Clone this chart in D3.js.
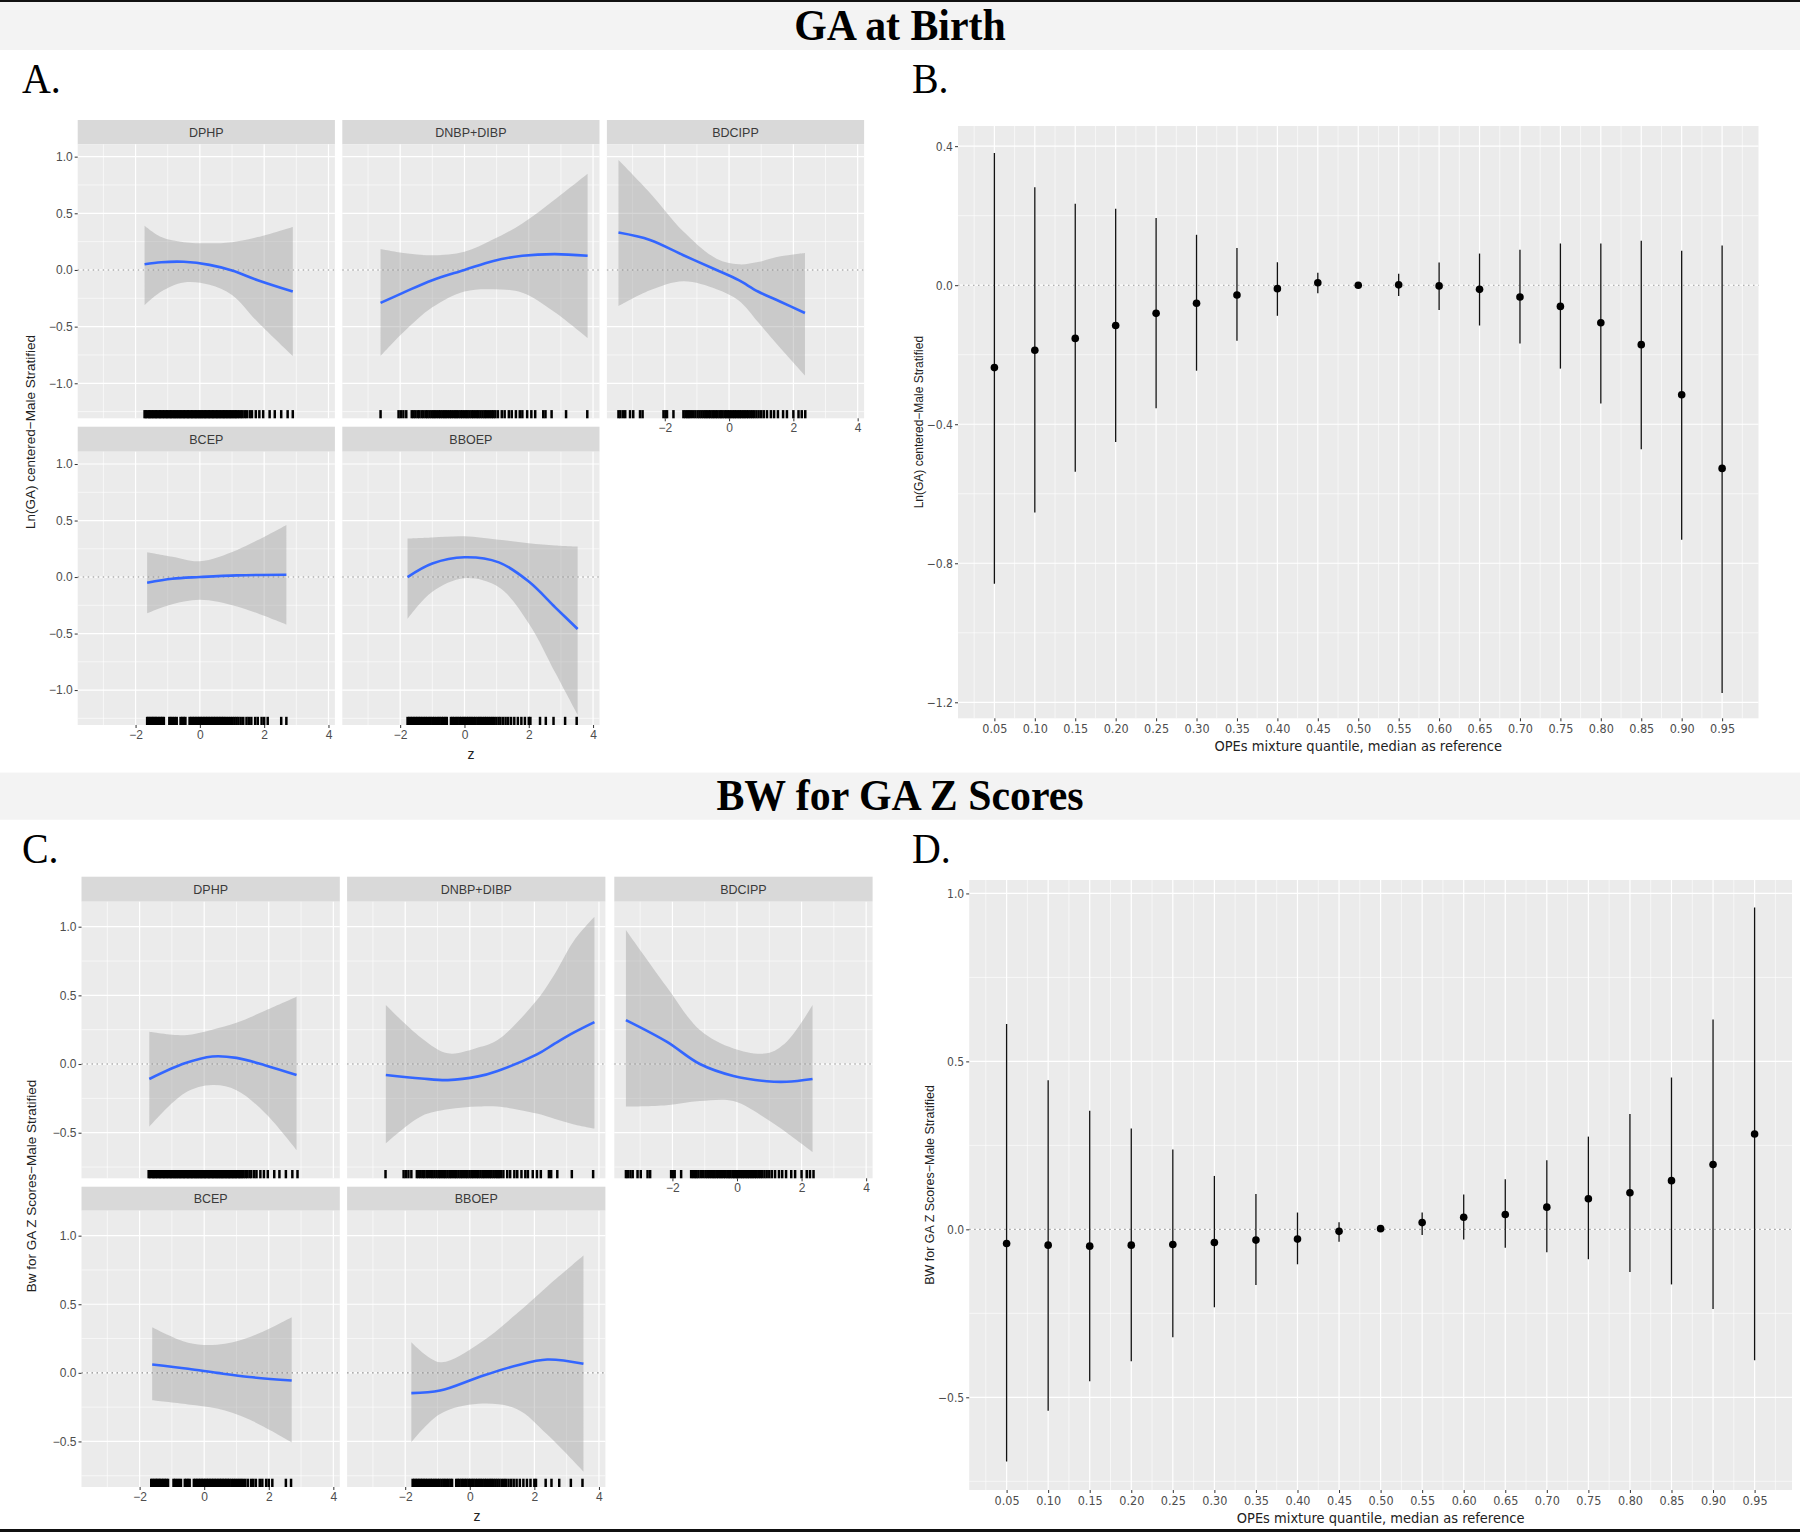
<!DOCTYPE html>
<html>
<head>
<meta charset="utf-8">
<script src="https://cdn.jsdelivr.net/npm/d3@7"></script>
<style>
body { margin: 0; background: #fff; }
svg text { font-family: "Liberation Sans", Arial, sans-serif; }
.narrow { font-family: "Liberation Sans Narrow", "DejaVu Sans Condensed", "Liberation Sans", sans-serif; font-stretch: condensed; }
.serif { font-family: "Liberation Serif", "Times New Roman", serif; }
</style>
</head>
<body>
<svg id="fig" width="1800" height="1532"></svg>
<script>
var svg = d3.select('#fig');

// facet names, in facet_wrap order
var facet_names = ['DPHP', 'DNBP+DIBP', 'BDCIPP', 'BCEP', 'BBOEP'];

// rug: observed z of each exposure (same for both outcomes)
var rug_dphp = [-1.72,-1.68,-1.63,-1.58,-1.55,-1.5,-1.46,-1.41,-1.37,-1.33,-1.28,-1.24,-1.2,-1.15,-1.11,-1.06,-1.02,-0.98,-0.93,-0.89,-0.85,-0.8,-0.76,-0.72,-0.67,-0.63,-0.59,-0.54,-0.5,-0.46,-0.41,-0.37,-0.33,-0.28,-0.24,-0.2,-0.15,-0.11,-0.07,-0.02,0.02,0.06,0.11,0.15,0.19,0.24,0.28,0.32,0.37,0.41,0.45,0.5,0.54,0.58,0.63,0.67,0.72,0.76,0.8,0.85,0.89,0.94,0.98,1.03,1.08,1.12,1.17,1.22,1.28,1.33,1.4,1.46,1.55,1.62,1.74,1.85,1.97,2.17,2.33,2.53,2.73,2.89];
var rug_dnbp = [-2.61,-2.05,-1.98,-1.9,-1.81,-1.64,-1.58,-1.52,-1.45,-1.4,-1.33,-1.27,-1.2,-1.15,-1.09,-1.03,-0.97,-0.92,-0.86,-0.8,-0.75,-0.69,-0.63,-0.58,-0.52,-0.46,-0.41,-0.35,-0.29,-0.24,-0.18,-0.12,-0.07,-0.01,0.05,0.1,0.16,0.22,0.27,0.33,0.39,0.44,0.5,0.56,0.62,0.67,0.73,0.79,0.85,0.9,0.96,1.04,1.16,1.25,1.38,1.47,1.6,1.72,1.8,1.95,2.08,2.2,2.45,2.52,2.71,3.16,3.82];
var rug_bdcipp = [-3.44,-3.38,-3.3,-3.23,-3.08,-2.98,-2.77,-2.69,-2.04,-1.98,-1.93,-1.73,-1.42,-1.36,-1.3,-1.25,-1.19,-1.12,-1.05,-0.98,-0.92,-0.86,-0.8,-0.74,-0.69,-0.63,-0.58,-0.52,-0.47,-0.41,-0.36,-0.3,-0.25,-0.2,-0.14,-0.09,-0.04,0.01,0.06,0.12,0.17,0.22,0.28,0.33,0.38,0.44,0.49,0.55,0.6,0.66,0.72,0.78,0.85,0.92,1.0,1.08,1.18,1.3,1.4,1.52,1.68,1.8,2.0,2.16,2.26,2.37];
var rug_bcep = [-1.64,-1.6,-1.55,-1.5,-1.46,-1.41,-1.37,-1.32,-1.27,-1.22,-1.17,-1.12,-0.95,-0.9,-0.84,-0.78,-0.72,-0.6,-0.55,-0.5,-0.45,-0.32,-0.27,-0.22,-0.17,-0.12,-0.07,-0.02,0.03,0.08,0.13,0.18,0.23,0.28,0.33,0.38,0.43,0.48,0.53,0.58,0.63,0.68,0.73,0.78,0.84,0.9,0.96,1.02,1.08,1.14,1.2,1.27,1.35,1.45,1.52,1.6,1.72,1.8,1.92,2.0,2.11,2.53,2.69];
var rug_bboep = [-1.77,-1.72,-1.67,-1.62,-1.57,-1.52,-1.47,-1.42,-1.37,-1.32,-1.26,-1.21,-1.16,-1.1,-1.05,-0.99,-0.94,-0.88,-0.82,-0.77,-0.71,-0.66,-0.6,-0.55,-0.42,-0.37,-0.32,-0.26,-0.21,-0.15,-0.1,-0.04,0.01,0.07,0.12,0.18,0.23,0.29,0.34,0.4,0.46,0.51,0.57,0.63,0.68,0.74,0.8,0.86,0.92,0.99,1.06,1.12,1.2,1.28,1.36,1.45,1.55,1.66,1.77,1.88,2.0,2.05,2.35,2.53,2.77,3.13,3.49];

// univariate exposure-response, rows are [z, fit, lower, upper]
var ga_dphp = [[-1.72,0.05,-0.31,0.39],[-1.2,0.068,-0.19,0.29],[-0.5,0.072,-0.11,0.245],[0.3,0.045,-0.13,0.235],[1.0,-0.005,-0.22,0.245],[1.8,-0.09,-0.46,0.29],[2.89,-0.19,-0.76,0.38]];
var ga_dnbp = [[-2.61,-0.29,-0.76,0.185],[-1.9,-0.2,-0.55,0.15],[-1.0,-0.09,-0.33,0.13],[0,0.0,-0.19,0.16],[0.9,0.08,-0.17,0.27],[1.8,0.125,-0.2,0.41],[2.8,0.14,-0.37,0.62],[3.83,0.125,-0.6,0.85]];
var ga_bdcipp = [[-3.44,0.33,-0.32,0.97],[-2.46,0.265,-0.18,0.68],[-1.42,0.13,-0.1,0.34],[-0.39,0.0,-0.17,0.1],[0.3,-0.09,-0.27,0.05],[0.9,-0.19,-0.46,0.07],[1.6,-0.28,-0.69,0.12],[2.36,-0.38,-0.93,0.15]];
var ga_bcep = [[-1.64,-0.05,-0.32,0.22],[-0.86,-0.015,-0.24,0.18],[0,0.0,-0.2,0.14],[1.16,0.015,-0.26,0.24],[2.69,0.02,-0.42,0.46]];
var ga_bboep = [[-1.77,0.0,-0.37,0.34],[-1.0,0.12,-0.13,0.35],[0,0.175,-0.01,0.36],[1.07,0.13,-0.09,0.33],[2.0,-0.04,-0.41,0.3],[2.83,-0.27,-0.85,0.28],[3.52,-0.46,-1.22,0.27]];

var bw_dphp = [[-1.7,-0.109,-0.456,0.235],[-0.6,0.005,-0.21,0.21],[0.25,0.055,-0.153,0.25],[1.0,0.045,-0.19,0.3],[1.9,-0.01,-0.36,0.39],[2.86,-0.08,-0.626,0.49]];
var bw_dnbp = [[-2.6,-0.08,-0.578,0.43],[-1.5,-0.105,-0.38,0.19],[-0.68,-0.117,-0.33,0.078],[0.26,-0.09,-0.31,0.12],[0.86,-0.05,-0.31,0.175],[2.08,0.07,-0.36,0.466],[2.64,0.15,-0.4,0.66],[3.23,0.23,-0.44,0.9],[3.86,0.305,-0.47,1.073]];
var bw_bdcipp = [[-3.44,0.32,-0.31,0.976],[-2.18,0.163,-0.3,0.563],[-1.15,0.0,-0.27,0.248],[-0.11,-0.087,-0.27,0.114],[0.92,-0.125,-0.4,0.078],[1.54,-0.129,-0.5,0.163],[2.34,-0.109,-0.64,0.43]];
var bw_bcep = [[-1.61,0.061,-0.2,0.333],[-0.5,0.03,-0.23,0.22],[0.4,0.0,-0.26,0.205],[1.4,-0.03,-0.34,0.26],[2.71,-0.056,-0.506,0.406]];
var bw_bboep = [[-1.81,-0.148,-0.506,0.224],[-0.92,-0.129,-0.3,0.078],[0.27,-0.032,-0.226,0.21],[1.45,0.054,-0.263,0.43],[2.4,0.097,-0.45,0.63],[3.52,0.066,-0.72,0.856]];

// mixture quantile effects (median as reference)
var quantiles = [0.05,0.10,0.15,0.20,0.25,0.30,0.35,0.40,0.45,0.50,0.55,0.60,0.65,0.70,0.75,0.80,0.85,0.90,0.95];
var ga_est = [-0.237,-0.187,-0.153,-0.116,-0.081,-0.052,-0.028,-0.010,0.007,0.0,0.001,-0.002,-0.012,-0.034,-0.061,-0.108,-0.171,-0.315,-0.527];
var ga_lo = [-0.859,-0.654,-0.537,-0.451,-0.354,-0.246,-0.160,-0.088,-0.023,-0.002,-0.031,-0.071,-0.116,-0.168,-0.240,-0.340,-0.472,-0.732,-1.173];
var ga_hi = [0.380,0.282,0.234,0.220,0.193,0.145,0.107,0.066,0.036,0.002,0.033,0.065,0.091,0.102,0.120,0.120,0.128,0.099,0.114];
var bw_est = [-0.042,-0.047,-0.050,-0.047,-0.045,-0.039,-0.032,-0.029,-0.006,0.002,0.020,0.036,0.044,0.066,0.091,0.109,0.145,0.193,0.284];
var bw_lo = [-0.691,-0.540,-0.452,-0.393,-0.321,-0.232,-0.166,-0.104,-0.037,0.0,-0.017,-0.030,-0.055,-0.068,-0.089,-0.127,-0.164,-0.237,-0.390];
var bw_hi = [0.611,0.444,0.353,0.300,0.238,0.159,0.105,0.050,0.021,0.004,0.050,0.104,0.149,0.206,0.276,0.343,0.452,0.625,0.958];

// axis breaks
var z_ticks = [-2, 0, 2, 4];
var z_minor = [-3, -1, 1, 3];
var ga_facet_ticks = [-1, -0.5, 0, 0.5, 1];
var ga_facet_minor = [-1.25, -0.75, -0.25, 0.25, 0.75];
var bw_facet_ticks = [-0.5, 0, 0.5, 1];
var bw_facet_minor = [-0.75, -0.25, 0.25, 0.75];
var ga_q_ticks = [-1.2, -0.8, -0.4, 0, 0.4];
var ga_q_minor = [-1.0, -0.6, -0.2, 0.2];
var bw_q_ticks = [-0.5, 0, 0.5, 1];
var bw_q_minor = [-0.75, -0.25, 0.25, 0.75];

var rugs = [rug_dphp, rug_dnbp, rug_bdcipp, rug_bcep, rug_bboep];

// ---- page frame ----
svg.append('rect').attr('x', 0).attr('y', 0).attr('width', 1800).attr('height', 2).attr('fill', '#111');
svg.append('rect').attr('x', 0).attr('y', 1529).attr('width', 1800).attr('height', 3).attr('fill', '#111');

function band(y0, y1, title) {
  svg.append('rect').attr('x', 0).attr('y', y0).attr('width', 1800).attr('height', y1 - y0).attr('fill', '#F3F3F3');
  // serif title, a little condensed like the original
  svg.append('text').attr('class', 'serif')
    .attr('transform', 'translate(900,' + ((y0 + y1) / 2 + 14) + ') scale(0.93,1)')
    .attr('text-anchor', 'middle')
    .style('font-size', '45px').style('font-weight', 'bold').attr('fill', '#000')
    .text(title);
}
band(2, 50, 'GA at Birth');
band(772.6, 819.7, 'BW for GA Z Scores');

function panel_letter(x, y, s) {
  svg.append('text').attr('class', 'serif')
    .attr('transform', 'translate(' + x + ',' + y + ') scale(0.95,1)')
    .style('font-size', '42px').attr('fill', '#000').text(s);
}
panel_letter(22, 93, 'A.');
panel_letter(912, 93, 'B.');
panel_letter(22, 863, 'C.');
panel_letter(912, 863, 'D.');

function style_axis(sel, narrow, size) {
  sel.select('.domain').remove();
  sel.selectAll('.tick line').attr('stroke', '#333').attr('stroke-width', 1);
  sel.selectAll('.tick text')
    .attr('fill', '#4D4D4D')
    .attr('class', narrow ? 'narrow' : null)
    .style('font-size', size + 'px');
}

function grid(g, x0, x1, y0, y1, xs, ys, xv, yv, width) {
  g.selectAll(null).data(xv).enter().append('line')
    .attr('x1', function(d) { return xs(d); }).attr('x2', function(d) { return xs(d); })
    .attr('y1', y0).attr('y2', y1)
    .attr('stroke', '#fff').attr('stroke-width', width);
  g.selectAll(null).data(yv).enter().append('line')
    .attr('x1', x0).attr('x2', x1)
    .attr('y1', function(d) { return ys(d); }).attr('y2', function(d) { return ys(d); })
    .attr('stroke', '#fff').attr('stroke-width', width);
}

// ---- facet plot (A, C) ----
function facet_plot(opt) {
  var g = svg.append('g');
  var fmt = d3.format('.1f');

  opt.curves.forEach(function(rows, i) {
    var r = Math.floor(i / 3), c = i % 3;
    var cx = opt.cols[c], ry = opt.rows[r];
    var px0 = cx[0], px1 = cx[1], py0 = ry.panel[0], py1 = ry.panel[1];
    var x = d3.scaleLinear().domain([-3.8, 4.2]).range([px0, px1]);
    var y = d3.scaleLinear().domain(opt.y_domain).range([py1, py0]);
    var cell = g.append('g');

    // strip
    cell.append('rect').attr('x', px0).attr('y', ry.strip[0])
      .attr('width', px1 - px0).attr('height', ry.strip[1] - ry.strip[0])
      .attr('fill', '#D9D9D9');
    cell.append('text').attr('x', (px0 + px1) / 2).attr('y', (ry.strip[0] + ry.strip[1]) / 2 + 4.5)
      .attr('text-anchor', 'middle').attr('fill', '#3a3a3a').style('font-size', '12.5px')
      .text(facet_names[i]);

    cell.append('rect').attr('x', px0).attr('y', py0)
      .attr('width', px1 - px0).attr('height', py1 - py0).attr('fill', '#EBEBEB');
    grid(cell, px0, px1, py0, py1, x, y, z_minor, opt.y_minor, 0.6);
    grid(cell, px0, px1, py0, py1, x, y, z_ticks, opt.y_ticks, 1.2);

    var area = d3.area()
      .x(function(d) { return x(d[0]); })
      .y0(function(d) { return y(d[2]); })
      .y1(function(d) { return y(d[3]); })
      .curve(d3.curveCatmullRom.alpha(0.5));
    cell.append('path').datum(rows).attr('d', area)
      .attr('fill', '#999').attr('fill-opacity', 0.4);

    cell.append('line').attr('x1', px0).attr('x2', px1)
      .attr('y1', y(0)).attr('y2', y(0))
      .attr('stroke', '#8c8c8c').attr('stroke-width', 1.1).attr('stroke-dasharray', '1.5,3.5');

    var line = d3.line()
      .x(function(d) { return x(d[0]); })
      .y(function(d) { return y(d[1]); })
      .curve(d3.curveCatmullRom.alpha(0.5));
    cell.append('path').datum(rows).attr('d', line)
      .attr('fill', 'none').attr('stroke', '#3366FF').attr('stroke-width', 2.6);

    // rug
    var rug_len = (py1 - py0) * 0.03;
    cell.selectAll(null).data(rugs[i]).enter().append('line')
      .attr('x1', function(d) { return x(d); }).attr('x2', function(d) { return x(d); })
      .attr('y1', py1).attr('y2', py1 - rug_len)
      .attr('stroke', '#000').attr('stroke-width', 2.5);

    if (c === 0) {
      var ay = cell.append('g').attr('transform', 'translate(' + px0 + ',0)')
        .call(d3.axisLeft(y).tickValues(opt.y_ticks).tickSize(3).tickPadding(2).tickFormat(fmt));
      style_axis(ay, false, 12);
    }
    if (r === 1 || c === 2) {
      var ax = cell.append('g').attr('transform', 'translate(0,' + py1 + ')')
        .call(d3.axisBottom(x).tickValues(z_ticks).tickSize(3).tickPadding(2).tickFormat(d3.format('d')));
      style_axis(ax, false, 12);
    }
  });

  var xmid = (opt.cols[0][0] + opt.cols[2][1]) / 2;
  g.append('text').attr('x', xmid).attr('y', opt.rows[1].panel[1] + 34)
    .attr('text-anchor', 'middle').attr('fill', '#222').style('font-size', '14px').text('z');

  g.append('text')
    .attr('transform', 'translate(' + opt.ylab_x + ',' + opt.ylab_y + ') rotate(-90)')
    .attr('text-anchor', 'middle').attr('fill', '#222').style('font-size', '13.5px')
    .text(opt.ylab);
}

// ---- quantile plot (B, D) ----
function quantile_plot(opt) {
  var g = svg.append('g');
  var x = d3.scaleLinear().domain([0.005, 0.995]).range([opt.left, opt.right]);
  var y = d3.scaleLinear().domain(opt.y_domain).range([opt.bottom, opt.top]);
  var x_minor = quantiles.map(function(q) { return q - 0.025; }).concat([0.975]);

  g.append('rect').attr('x', opt.left).attr('y', opt.top)
    .attr('width', opt.right - opt.left).attr('height', opt.bottom - opt.top).attr('fill', '#EBEBEB');
  grid(g, opt.left, opt.right, opt.top, opt.bottom, x, y, x_minor, opt.y_minor, 0.6);
  grid(g, opt.left, opt.right, opt.top, opt.bottom, x, y, quantiles, opt.y_ticks, 1.2);

  g.append('line').attr('x1', opt.left).attr('x2', opt.right)
    .attr('y1', y(0)).attr('y2', y(0))
    .attr('stroke', '#9a9a9a').attr('stroke-width', 1.1).attr('stroke-dasharray', '1.5,3.5');

  g.selectAll(null).data(quantiles).enter().append('line')
    .attr('x1', function(d) { return x(d); }).attr('x2', function(d) { return x(d); })
    .attr('y1', function(d, i) { return y(opt.lo[i]); })
    .attr('y2', function(d, i) { return y(opt.hi[i]); })
    .attr('stroke', '#111').attr('stroke-width', 1.3);
  g.selectAll(null).data(quantiles).enter().append('circle')
    .attr('cx', function(d) { return x(d); })
    .attr('cy', function(d, i) { return y(opt.est[i]); })
    .attr('r', 3.8).attr('fill', '#000');

  var ay = g.append('g').attr('transform', 'translate(' + opt.left + ',0)')
    .call(d3.axisLeft(y).tickValues(opt.y_ticks).tickSize(3).tickPadding(2).tickFormat(d3.format('.1f')));
  style_axis(ay, true, 12);
  var ax = g.append('g').attr('transform', 'translate(0,' + opt.bottom + ')')
    .call(d3.axisBottom(x).tickValues(quantiles).tickSize(3).tickPadding(3).tickFormat(d3.format('.2f')));
  style_axis(ax, true, 12.5);

  g.append('text').attr('class', 'narrow')
    .attr('x', (opt.left + opt.right) / 2).attr('y', opt.bottom + 33)
    .attr('text-anchor', 'middle').attr('fill', '#222').style('font-size', '14.5px')
    .text('OPEs mixture quantile, median as reference');
  g.append('text')
    .attr('transform', 'translate(' + opt.ylab_x + ',' + (opt.top + opt.bottom) / 2 + ') rotate(-90)')
    .attr('text-anchor', 'middle').attr('fill', '#222').style('font-size', opt.ylab_size + 'px')
    .text(opt.ylab);
}

facet_plot({
  cols: [[77.7, 334.9], [342.3, 599.5], [606.9, 864.1]],
  rows: [{strip: [120, 144.3], panel: [144.3, 418.3]}, {strip: [426.7, 451.7], panel: [451.7, 725]}],
  y_domain: [-1.309, 1.109],
  y_ticks: ga_facet_ticks, y_minor: ga_facet_minor,
  curves: [ga_dphp, ga_dnbp, ga_bdcipp, ga_bcep, ga_bboep],
  ylab: 'Ln(GA) centered\u2212Male Stratified', ylab_x: 35, ylab_y: 432
});

facet_plot({
  cols: [[81.5, 339.8], [347.1, 605.4], [614.3, 872.6]],
  rows: [{strip: [876.7, 901.7], panel: [901.7, 1178.3]}, {strip: [1186.7, 1210.7], panel: [1210.7, 1487]}],
  y_domain: [-0.832, 1.182],
  y_ticks: bw_facet_ticks, y_minor: bw_facet_minor,
  curves: [bw_dphp, bw_dnbp, bw_bdcipp, bw_bcep, bw_bboep],
  ylab: 'Bw for GA Z Scores\u2212Male Stratified', ylab_x: 36, ylab_y: 1186
});

quantile_plot({
  left: 958, right: 1758.5, top: 126, bottom: 718.3,
  y_domain: [-1.246, 0.458], y_ticks: ga_q_ticks, y_minor: ga_q_minor,
  est: ga_est, lo: ga_lo, hi: ga_hi,
  ylab: 'Ln(GA) centered\u2212Male Stratified', ylab_x: 923, ylab_size: 12
});

quantile_plot({
  left: 969.2, right: 1792, top: 880, bottom: 1490,
  y_domain: [-0.776, 1.040], y_ticks: bw_q_ticks, y_minor: bw_q_minor,
  est: bw_est, lo: bw_lo, hi: bw_hi,
  ylab: 'BW for GA Z Scores\u2212Male Stratified', ylab_x: 934, ylab_size: 12.5
});
</script>
</body>
</html>
